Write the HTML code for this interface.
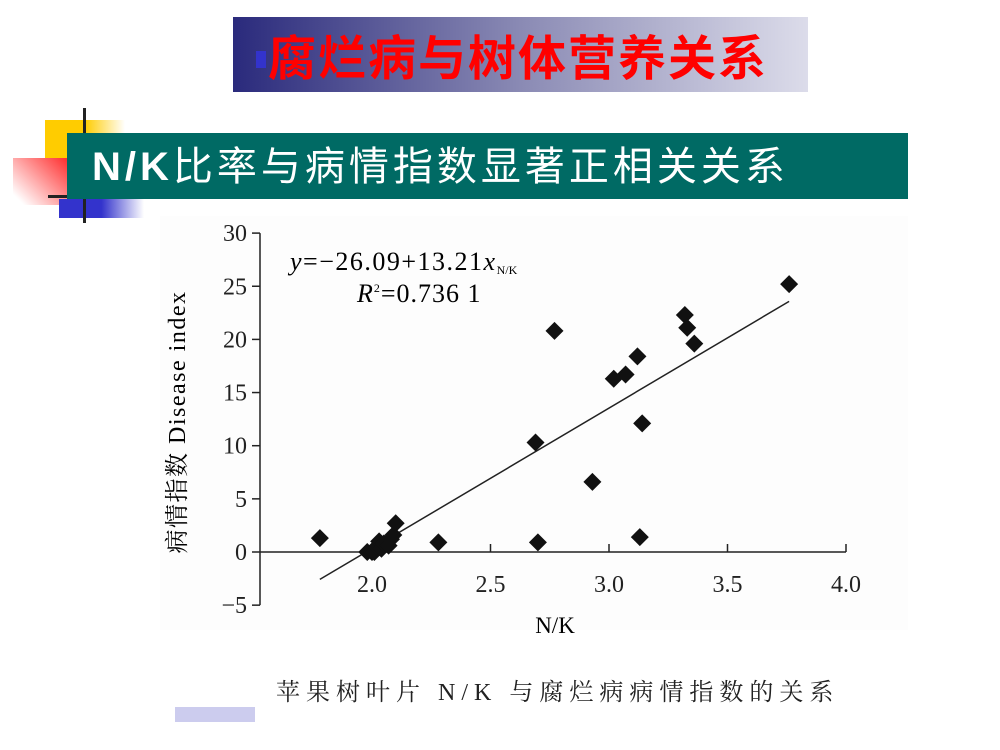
<!DOCTYPE html>
<html><head><meta charset="utf-8"><style>
body{margin:0;width:1000px;height:750px;background:#fff;position:relative;overflow:hidden;font-family:"Liberation Sans","Noto Sans CJK SC",sans-serif}
.a{position:absolute}
</style></head><body>
<div class="a" style="left:233px;top:17px;width:575px;height:75px;background:linear-gradient(90deg,#2a2a7c,#8a8ab4 50%,#dcdcea)"></div>
<div class="a" style="left:256px;top:51px;width:10px;height:17px;background:#3333cc"></div>
<div class="a" style="left:268px;top:24px;font-size:48px;font-weight:bold;color:#ff0000;letter-spacing:2px;line-height:60px;font-family:'Noto Sans CJK SC',sans-serif">腐烂病与树体营养关系</div>
<div class="a" style="left:45px;top:120px;width:80px;height:40px;background:linear-gradient(90deg,#ffcc00 50%,#fff)"></div>
<div class="a" style="left:13px;top:158px;width:60px;height:47px;background:linear-gradient(225deg,#ff2020,#fff 90%)"></div>
<div class="a" style="left:59px;top:199px;width:85px;height:19px;background:linear-gradient(90deg,#3333cc 50%,#fff)"></div>
<div class="a" style="left:83px;top:108px;width:3px;height:115px;background:#222"></div>
<div class="a" style="left:48px;top:195px;width:25px;height:3px;background:#222"></div>
<div class="a" style="left:67px;top:133px;width:841px;height:66px;background:#006a64"></div>
<div class="a" style="left:92px;top:140px;font-size:40px;color:#fff;line-height:54px;letter-spacing:4px;white-space:nowrap;font-family:'Liberation Sans','Noto Sans CJK SC',sans-serif"><b>N/K</b>比率与病情指数显著正相关关系</div>
<div class="a" style="left:160px;top:216px;width:748px;height:414px;background:#fdfdfd"></div>
<svg class="a" style="left:0;top:0" width="1000" height="750">
<g id="ax" font-family="Liberation Serif,serif" font-size="24" fill="#222"></g>
<g id="pts"></g>
<text x="290" y="270" font-family="Liberation Serif,serif" font-size="26" letter-spacing="1.5"><tspan font-style="italic">y</tspan>=−26.09+13.21<tspan font-style="italic">x</tspan><tspan font-size="12" dy="4" letter-spacing="0">N/K</tspan></text>
<text x="357" y="302" font-family="Liberation Serif,serif" font-size="26" letter-spacing="1"><tspan font-style="italic">R</tspan><tspan font-size="12" dy="-10">2</tspan><tspan dy="10">=0.736 1</tspan></text>
<text x="555" y="633" text-anchor="middle" font-family="Liberation Serif,serif" font-size="23">N/K</text>
<text transform="translate(185,422) rotate(-90)" text-anchor="middle" font-family="Liberation Serif,'Noto Serif CJK SC',serif" font-size="24" letter-spacing="1.5">病情指数  Disease index</text>
</svg>
<div class="a" style="left:276px;top:672px;font-size:24px;color:#222;letter-spacing:6px;white-space:nowrap;font-family:'Liberation Serif','Noto Serif CJK SC',serif">苹果树叶片 N/K 与腐烂病病情指数的关系</div>
<div class="a" style="left:175px;top:707px;width:80px;height:15px;background:#ccccee"></div>
<script>
const xTicks=[2.0,2.5,3.0,3.5,4.0];
const xTickLabels=["2.0","2.5","3.0","3.5","4.0"];
const yTicks=[-5,0,5,10,15,20,25,30];
const yTickLabels=["−5","0","5","10","15","20","25","30"];
const xVals=[1.78,1.98,2.00,2.01,2.02,2.03,2.04,2.05,2.07,2.08,2.09,2.10,2.28,2.69,2.70,2.77,2.93,3.02,3.07,3.12,3.13,3.14,3.32,3.33,3.36,3.76];
const yVals=[1.3,0,0,0,0.5,1.0,0.3,0.8,0.6,1.2,1.6,2.7,0.9,10.3,0.9,20.8,6.6,16.3,16.7,18.4,1.4,12.1,22.3,21.1,19.6,25.2];
const fitA=-26.09, fitB=13.21, fitRange=[1.78,3.76];
const sx=v=>372+(v-2)*237, sy=v=>552-v*10.63;
const NS="http://www.w3.org/2000/svg";
const ax=document.getElementById('ax'), pts=document.getElementById('pts');
function mk(t,a,p){const e=document.createElementNS(NS,t);for(const k in a)e.setAttribute(k,a[k]);p.appendChild(e);return e;}
let e=mk('line',{x1:260,y1:sy(30),x2:260,y2:sy(-5),stroke:'#222','stroke-width':1.5},ax);


e=mk('line',{x1:260,y1:sy(0),x2:sx(4.0),y2:sy(0),stroke:'#222','stroke-width':1.5},ax);


yTicks.forEach((v,i)=>{mk('line',{x1:252,y1:sy(v),x2:260,y2:sy(v),stroke:'#222','stroke-width':1.5},ax);
const t=mk('text',{x:247,y:sy(v)+8,'text-anchor':'end'},ax);t.textContent=yTickLabels[i];

});
xTicks.forEach((v,i)=>{mk('line',{x1:sx(v),y1:sy(0),x2:sx(v),y2:sy(0)-8,stroke:'#222','stroke-width':1.5},ax);
const t=mk('text',{x:sx(v),y:592,'text-anchor':'middle'},ax);t.textContent=xTickLabels[i];

});
e=mk('line',{x1:sx(fitRange[0]),y1:sy(fitA+fitB*fitRange[0]),x2:sx(fitRange[1]),y2:sy(fitA+fitB*fitRange[1]),stroke:'#222','stroke-width':1.5},pts);


xVals.forEach((v,i)=>{const x=sx(v),y=sy(yVals[i]);
const p=mk('polygon',{points:`${x},${y-9} ${x+9},${y} ${x},${y+9} ${x-9},${y}`,fill:'#111'},pts);

});
</script>
</body></html>
